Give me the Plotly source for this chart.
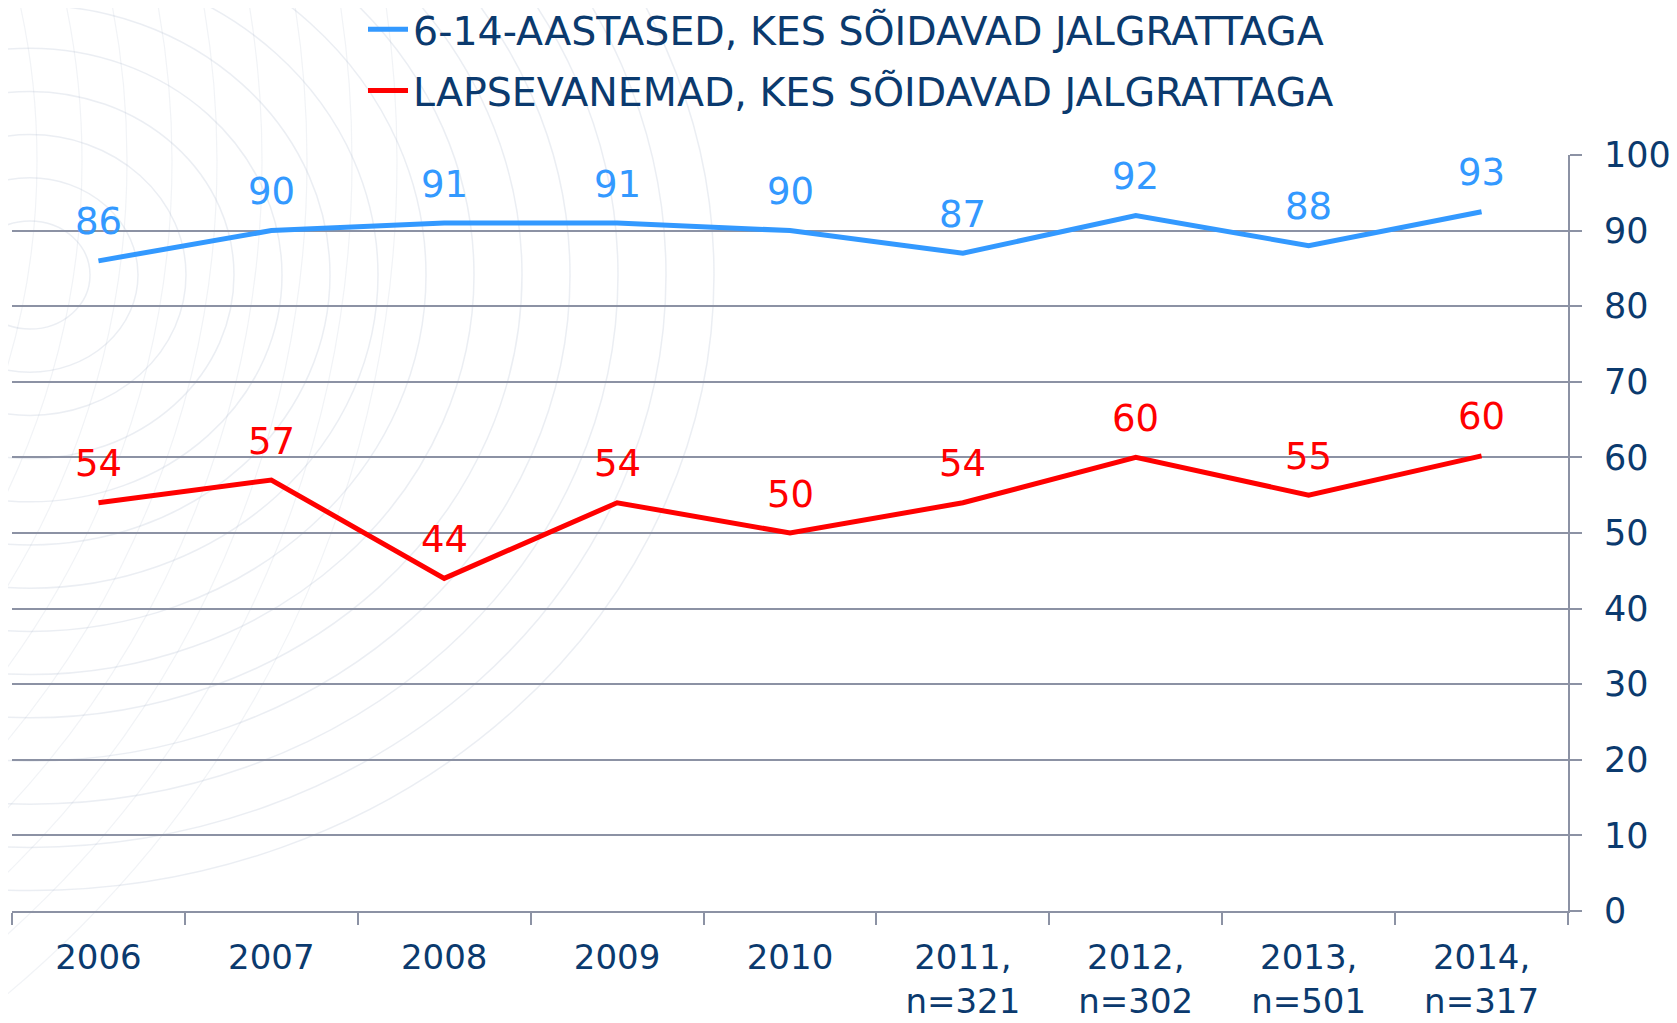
import plotly.graph_objects as go

categories = ['2006', '2007', '2008', '2009', '2010',
              '2011,<br>n=321', '2012,<br>n=302', '2013,<br>n=501', '2014,<br>n=317']
children = [86, 90, 91, 91, 90, 87, 92, 88, 92.5]
parents = [54, 57, 44, 54, 50, 54, 60, 55, 60.2]
series_names = ['6-14-AASTASED, KES SÕIDAVAD JALGRATTAGA',
                'LAPSEVANEMAD, KES SÕIDAVAD JALGRATTAGA']
y_ticks = [0, 10, 20, 30, 40, 50, 60, 70, 80, 90, 100]

BLUE = '#3399FF'
RED = '#FF0000'
NAVY = '#0B3A6E'
GRID = '#8C92A4'
FONT = 'DejaVu Sans'

# page body has an 8px offset, so the figure is drawn 8px smaller
W, H = 1669, 1015
PW, PH = 1556, 756  # plot area in px
ML, MT = 4, 147

fig = go.Figure()
for i, (name, vals, color) in enumerate([(series_names[0], children, BLUE),
                                         (series_names[1], parents, RED)]):
    fig.add_trace(go.Scatter(x=categories, y=vals, name=name, mode='lines',
                             legendgroup=f'g{i}',
                             line=dict(color=color, width=5)))
    # data labels above the points (rounded half up like Excel)
    for j, v in enumerate(vals):
        fig.add_annotation(x=j, y=v, text=str(int(v + 0.5)), showarrow=False,
                           yshift=39, font=dict(family=FONT, size=37, color=color))

# faint decorative arcs in the top-left corner
cx, cy = 30 - 12, 911 - 275
for r in range(60, 700, 48):
    fig.add_shape(type='circle', xref='paper', yref='paper',
                  x0=(cx - r) / PW, x1=(cx + r) / PW,
                  y0=(cy - r * 0.9) / PH, y1=(cy + r * 0.9) / PH,
                  line=dict(color='rgba(165,178,200,0.22)', width=1.5),
                  layer='below')
for r in range(500, 1100, 45):
    fig.add_shape(type='circle', xref='paper', yref='paper',
                  x0=(-700 - r) / PW, x1=(-700 + r) / PW,
                  y0=(750 - r) / PH, y1=(750 + r) / PH,
                  line=dict(color='rgba(165,178,200,0.16)', width=1.2),
                  layer='below')

fig.update_layout(
    width=W, height=H,
    margin=dict(l=ML, r=W - ML - PW, t=MT, b=H - MT - PH, autoexpand=False),
    paper_bgcolor='white', plot_bgcolor='rgba(0,0,0,0)',
    font=dict(family=FONT, color=NAVY),
    showlegend=True,
    legend=dict(x=(363 - 12) / PW, y=1 + 158 / PH, yanchor='top', xanchor='left',
                orientation='v', font=dict(size=39.5, color=NAVY),
                tracegroupgap=7, itemwidth=40, bgcolor='rgba(0,0,0,0)'),
)
fig.update_xaxes(type='category', range=[-0.5, 8.5], tickson='boundaries',
                 ticks='outside', ticklen=12, tickcolor=GRID, tickwidth=2,
                 showline=True, linecolor=GRID, linewidth=2, showgrid=False,
                 tickangle=0, ticklabelstandoff=15,
                 tickfont=dict(size=34, color=NAVY, family=FONT))
fig.update_yaxes(side='right', range=[0, 100], tickvals=y_ticks,
                 ticks='outside', ticklen=12, tickcolor=GRID, tickwidth=2,
                 showline=True, linecolor=GRID, linewidth=2,
                 showgrid=True, gridcolor=GRID, gridwidth=2, zeroline=False,
                 ticklabelstandoff=15,
                 tickfont=dict(size=35, color=NAVY, family=FONT))

fig.write_html('out.html')
